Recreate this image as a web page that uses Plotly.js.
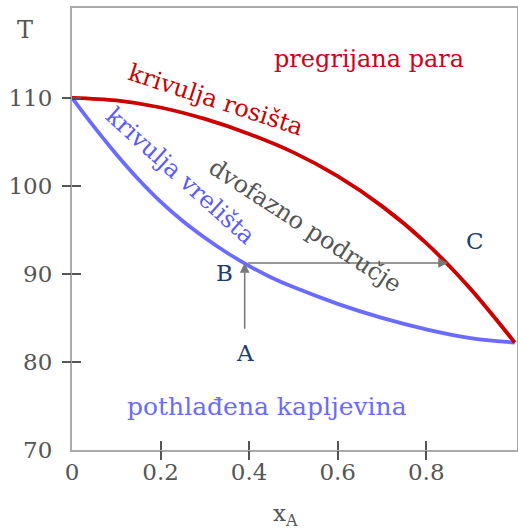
<!DOCTYPE html>
<html>
<head>
<meta charset="utf-8">
<script src="https://cdn.plot.ly/plotly-3.0.1.min.js"></script>
<style>html,body{margin:0;padding:0;background:#fff;}#plot{width:518px;height:532px;}</style>
</head>
<body>
<div id="plot"></div>
<script>
// Data
const xBubble = [0, 0.05, 0.1, 0.15, 0.2, 0.25, 0.3, 0.35, 0.4, 0.45, 0.5, 0.6, 0.7, 0.8, 0.9, 1.0];
const tBubble = [110, 106.7, 103.6, 100.75, 98.2, 96.0, 94.1, 92.4, 90.9, 89.6, 88.5, 86.6, 85.0, 83.7, 82.7, 82.2];
const xDew = [0, 0.1, 0.2, 0.3, 0.4, 0.5, 0.6, 0.7, 0.8, 0.9, 1.0];
const tDew = [110, 109.7, 108.9, 107.6, 105.9, 103.8, 101.1, 97.7, 93.5, 88.3, 82.2];
const xTicks = [0, 0.2, 0.4, 0.6, 0.8, 1];
const xTickText = ['0', '0.2', '0.4', '0.6', '0.8', '1'];
const yTicks = [70, 80, 90, 100, 110];
const yTickText = ['70', '80', '90', '100', '110'];
const pointA = [0.39, 82.8];
const pointB = [0.39, 91.25];
const pointC = [0.849, 91.25];

const serif = 'DejaVu Serif, serif';
const red = '#cc0000';
const blue = '#6b6bff';
const xr = [0, 1.005];
const yr = [70, 120.2];

const traces = [
  {x: xBubble, y: tBubble, mode: 'lines', line: {color: blue, width: 3.8, shape: 'spline', smoothing: 0.9}, hoverinfo: 'skip'},
  {x: xDew, y: tDew, mode: 'lines', line: {color: red, width: 3.8, shape: 'spline', smoothing: 0.9}, hoverinfo: 'skip'},
  {x: [], y: [], xaxis: 'x2', yaxis: 'y2', mode: 'lines', hoverinfo: 'skip'},
  {x: [], y: [], xaxis: 'x3', yaxis: 'y3', mode: 'lines', hoverinfo: 'skip'}
];

const tickAxis = (ov, anchor, dir, vals, range) => ({
  overlaying: ov, anchor: anchor, range: range, tickvals: vals, ticks: dir, ticklen: 9, tickwidth: 2,
  tickcolor: '#555', showticklabels: false, showgrid: false, zeroline: false, showline: false, fixedrange: true
});

const lbl = (x, y, text, color, angle, size) => ({
  x: x, y: y, text: text, showarrow: false, textangle: angle || 0,
  font: {family: serif, size: size || 24, color: color}
});

const layout = {
  width: 518, height: 532,
  margin: {l: 72, r: 1, t: 8, b: 82},
  paper_bgcolor: '#fff', plot_bgcolor: '#fff',
  showlegend: false,
  font: {family: serif, color: '#555'},
  xaxis: {
    range: xr, tickvals: xTicks, ticktext: xTickText, ticks: '', ticklabelstandoff: 0,
    tickfont: {family: serif, size: 23, color: '#555'},
    showgrid: false, zeroline: false, showline: true, linecolor: '#aaa', linewidth: 2, mirror: true
  },
  yaxis: {
    range: yr, tickvals: yTicks, ticktext: yTickText, ticks: '', ticklabelstandoff: 13,
    tickfont: {family: serif, size: 23, color: '#555'},
    showgrid: false, zeroline: false, showline: true, linecolor: '#aaa', linewidth: 2, mirror: true
  },
  xaxis2: tickAxis('x', 'y2', 'outside', xTicks.slice(1, -1), xr),
  yaxis2: tickAxis('y', 'x2', 'outside', yTicks.slice(1), yr),
  xaxis3: tickAxis('x', 'y3', 'inside', xTicks.slice(1, -1), xr),
  yaxis3: tickAxis('y', 'x3', 'inside', yTicks.slice(1), yr),
  annotations: [
    {xref: 'paper', yref: 'paper', x: -0.105, y: 0.95, text: 'T', showarrow: false, font: {family: serif, size: 24, color: '#555'}, xanchor: 'center', yanchor: 'middle'},
    {xref: 'paper', yref: 'paper', x: 0.48, y: -0.148, text: 'x<sub>A</sub>', showarrow: false, font: {family: serif, size: 23, color: '#555'}, xanchor: 'center', yanchor: 'middle'},
    {x: pointB[0], y: pointB[1], ax: pointA[0], ay: pointA[1], axref: 'x', ayref: 'y', xref: 'x', yref: 'y', text: ' ', showarrow: true, arrowhead: 2, arrowsize: 1.3, arrowwidth: 1.5, arrowcolor: '#777', standoff: 0},
    {x: pointC[0], y: pointC[1], ax: pointB[0], ay: pointB[1], axref: 'x', ayref: 'y', xref: 'x', yref: 'y', text: ' ', showarrow: true, arrowhead: 2, arrowsize: 1.3, arrowwidth: 1.5, arrowcolor: '#777', standoff: 0},
    lbl(pointA[0], 81.0, 'A', '#1c3d6e', 0, 23),
    lbl(0.345, 90.1, 'B', '#1c3d6e', 0, 23),
    lbl(0.91, 93.75, 'C', '#1c3d6e', 0, 23),
    lbl(0.67, 114.4, 'pregrijana para', '#d0021b'),
    lbl(0.326, 109.8, 'krivulja rosišta', red, 18),
    lbl(0.245, 101.1, 'krivulja vrelišta', '#5a5aff', 42),
    lbl(0.527, 95.4, 'dvofazno područje', '#555', 33),
    lbl(0.44, 74.9, 'pothlađena kapljevina', '#6b6bff', 0, 25)
  ]
};

Plotly.newPlot('plot', traces, layout, {staticPlot: true, displayModeBar: false});
</script>
</body>
</html>
